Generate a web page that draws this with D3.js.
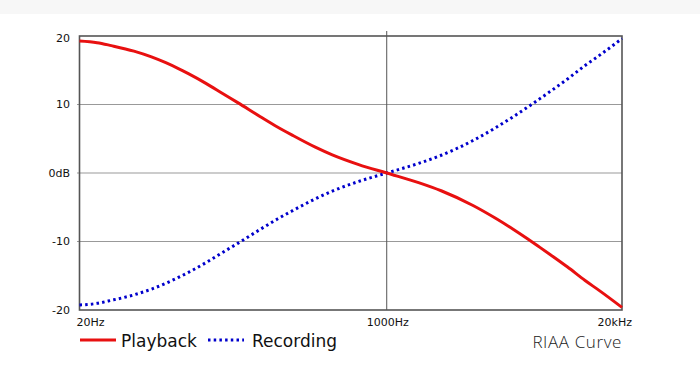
<!DOCTYPE html>
<meta charset="utf-8">
<style>
body { margin: 0; background: #fff; }
text { font-family: "DejaVu Sans", sans-serif; }
.tick-label { font-size: 11px; fill: #111; }
.legend { font-size: 17px; fill: #111; }
.title { font-family: "Open Sans", sans-serif; font-weight: 300; font-size: 17px; letter-spacing: 0.6px; fill: #222; }
</style>
<svg width="700" height="376"></svg>
<script src="https://d3js.org/d3.v7.min.js"></script>
<script>
// frequencies (Hz) and gain (dB)
var freqs = [20, 25, 30, 40, 50, 60, 70, 80, 100, 125, 150, 200, 250, 300, 400, 500, 700,
             1000, 1500, 2000, 3000, 4000, 5000, 6000, 7000, 8000, 10000, 12500, 15000, 20000];
var playback = [19.27, 19.03, 18.59, 17.79, 16.95, 16.10, 15.28, 14.51, 13.09, 11.53, 10.27, 8.22,
                6.68, 5.53, 3.81, 2.65, 1.23, 0, -1.40, -2.59, -4.74, -6.61, -8.21, -9.60,
                -10.82, -11.89, -13.73, -15.70, -17.17, -19.62];
var recording = [-19.27, -19.03, -18.59, -17.79, -16.95, -16.10, -15.28, -14.51, -13.09, -11.53, -10.27, -8.22,
                 -6.68, -5.53, -3.81, -2.65, -1.23, 0, 1.40, 2.59, 4.74, 6.61, 8.21, 9.60,
                 10.82, 11.89, 13.73, 15.70, 17.17, 19.62];
var yTicks = [20, 10, 0, -10, -20];
var yTickLabels = ["20", "10", "0dB", "-10", "-20"];
var xTicks = [20, 1000, 20000];
var xTickLabels = ["20Hz", "1000Hz", "20kHz"];
var seriesNames = ["Playback", "Recording"];

var svg = d3.select("svg");

svg.append("rect").attr("x", 0).attr("y", 0).attr("width", 700).attr("height", 14).attr("fill", "#f7f7f7");

var x = d3.scaleLog().domain([20, 20000]).range([79.5, 622]);
var y = d3.scaleLinear().domain([-20, 20]).range([310, 36]);

// grid lines
svg.selectAll(".grid")
  .data(yTicks.filter(function(d) { return d != 20 && d != -20; }))
  .enter().append("line")
  .attr("x1", 77).attr("x2", x(20000))
  .attr("y1", function(d) { return y(d); })
  .attr("y2", function(d) { return y(d); })
  .attr("stroke", "#999").attr("stroke-width", 1);

// 1000Hz line
svg.append("line")
  .attr("x1", x(1000)).attr("x2", x(1000))
  .attr("y1", 31).attr("y2", y(-20))
  .attr("stroke", "#555").attr("stroke-width", 1);

// frame
svg.append("rect")
  .attr("x", x(20)).attr("y", y(20))
  .attr("width", x(20000) - x(20)).attr("height", y(-20) - y(20))
  .attr("fill", "none").attr("stroke", "#555").attr("stroke-width", 1.6);

// y labels
svg.selectAll(".ylab")
  .data(yTicks)
  .enter().append("text")
  .attr("class", "tick-label")
  .attr("x", 70)
  .attr("y", function(d) { return Math.max(y(d), 38.5); })
  .attr("dy", "0.35em")
  .attr("text-anchor", "end")
  .text(function(d, i) { return yTickLabels[i]; });

// x labels
var anchors = ["start", "middle", "end"];
var offsets = [-3, 1, 10];
svg.selectAll(".xlab")
  .data(xTicks)
  .enter().append("text")
  .attr("class", "tick-label")
  .attr("x", function(d, i) { return x(d) + offsets[i]; })
  .attr("y", 322)
  .attr("dy", "0.35em")
  .attr("text-anchor", function(d, i) { return anchors[i]; })
  .text(function(d, i) { return xTickLabels[i]; });

var line = d3.line()
  .x(function(d) { return x(d[0]); })
  .y(function(d) { return y(d[1]); })
  .curve(d3.curveMonotoneX);

svg.append("path")
  .datum(freqs.map(function(f, i) { return [f, recording[i]]; }))
  .attr("d", line)
  .attr("fill", "none").attr("stroke", "#0000cc").attr("stroke-width", 3)
  .attr("stroke-dasharray", "2.5,3.2");

svg.append("path")
  .datum(freqs.map(function(f, i) { return [f, playback[i]]; }))
  .attr("d", line)
  .attr("fill", "none").attr("stroke", "#e81010").attr("stroke-width", 3);

// legend
svg.append("line").attr("x1", 80).attr("x2", 116).attr("y1", 340).attr("y2", 340)
  .attr("stroke", "#e81010").attr("stroke-width", 3);
svg.append("text").attr("class", "legend").attr("x", 121).attr("y", 341).attr("dy", "0.35em").text(seriesNames[0]);
svg.append("line").attr("x1", 208).attr("x2", 244).attr("y1", 340).attr("y2", 340)
  .attr("stroke", "#0000cc").attr("stroke-width", 3).attr("stroke-dasharray", "2.5,3.2");
svg.append("text").attr("class", "legend").attr("x", 252).attr("y", 341).attr("dy", "0.35em").text(seriesNames[1]);

svg.append("text").attr("class", "title").attr("x", 622).attr("y", 342).attr("dy", "0.35em")
  .attr("text-anchor", "end").text("RIAA Curve");
</script>
